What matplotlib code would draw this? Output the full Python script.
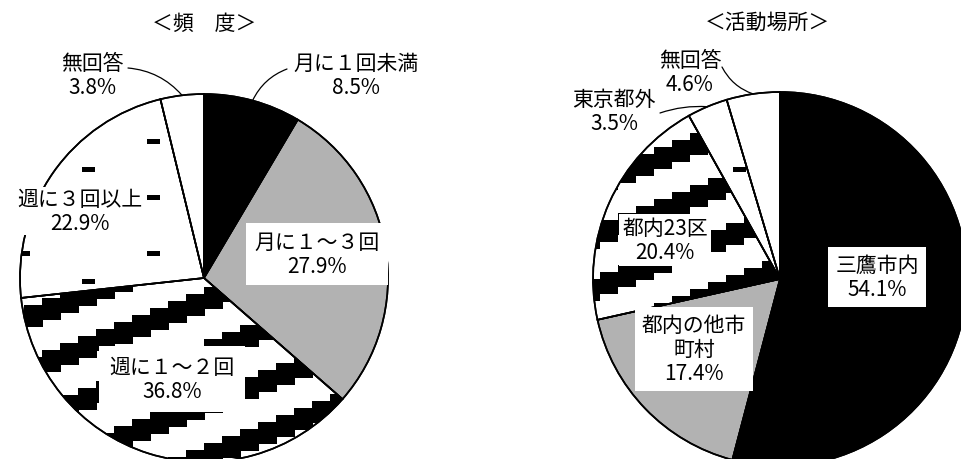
import numpy as np
import matplotlib.pyplot as plt
from matplotlib.patches import Rectangle, Wedge
from matplotlib.collections import PatchCollection

plt.rcParams['font.family'] = ['Noto Sans CJK JP', 'DejaVu Sans']

W, H = 962, 460

# data
freq_title = '＜頻　度＞'
freq_labels = ['月に１回未満', '月に１～３回', '週に１～２回', '週に３回以上', '無回答']
freq_values = [8.5, 27.9, 36.8, 22.9, 3.8]

place_title = '＜活動場所＞'
place_labels = ['三鷹市内', '都内の他市\n町村', '都内23区', '東京都外', '無回答']
place_values = [54.1, 17.4, 20.4, 3.5, 4.6]

GRAY = '#b2b2b2'
fills = ['black', 'gray', 'stripes', 'dashes', 'white']


def px(x, y):
    # pixel (top-left origin) -> data coords
    return x, H - y


def stripes(ax, wedge, cx, cy, r, phase, sw=18, sh=7, t=22, period=52):
    rects = []
    n = int(r / sw) + 3
    for k in range(-14, 14):
        base = cy + phase + k * period
        for j in range(-n, n):
            rects.append(Rectangle((cx + j * sw, base + j * sh), sw + 0.5, t))
    pc = PatchCollection(rects, facecolor='black', edgecolor='none', zorder=3)
    ax.add_collection(pc)
    pc.set_clip_path(wedge)


def dashes(ax, wedge, ox, oy, dx=130, dy=28, w=13, h=5):
    rects = []
    for row in range(-20, 20):
        for i in range(-6, 6):
            x = ox + i * dx + (row % 2) * dx / 2
            y = oy - row * dy
            rects.append(Rectangle((x - w / 2, y - h / 2), w, h))
    pc = PatchCollection(rects, facecolor='black', edgecolor='none', zorder=3)
    ax.add_collection(pc)
    pc.set_clip_path(wedge)


def draw_pie(ax, values, center, r, dash_origin, phase):
    cx, cy = px(*center)
    cols = [{'black': 'black', 'gray': GRAY}.get(f, 'white') for f in fills]
    wedges, _ = ax.pie(values, colors=cols, startangle=90, counterclock=False,
                       center=(cx, cy), radius=r,
                       wedgeprops=dict(edgecolor='black', linewidth=1.2))
    for wdg, f in zip(wedges, fills):
        wdg.set_zorder(2)
        if f == 'stripes':
            stripes(ax, wdg, cx, cy, r, phase)
        elif f == 'dashes':
            dashes(ax, wdg, *px(*dash_origin))
    # outlines above the patterns
    for wdg in wedges:
        ax.add_patch(Wedge((cx, cy), r, wdg.theta1, wdg.theta2, facecolor='none',
                           edgecolor='black', linewidth=1.2, zorder=4))
    return wedges, (cx, cy)


def edge_point(wedge, center, r):
    a = np.deg2rad((wedge.theta1 + wedge.theta2) / 2)
    return center[0] + r * np.cos(a), center[1] + r * np.sin(a)


def pct(v):
    return f'{v:.1f}%'


fig = plt.figure(figsize=(W / 100, H / 100), dpi=100)
ax = fig.add_axes([0, 0, 1, 1])

fs = 15
ls = 1.12
box = dict(facecolor='white', edgecolor='none', boxstyle='square')


def label(pos, name, value, pad=None):
    kw = {}
    if pad is not None:
        kw['bbox'] = dict(box, pad=pad)
    ax.text(*px(*pos), f'{name}\n{pct(value)}', ha='center', va='center',
            fontsize=fs, linespacing=ls, zorder=6, **kw)


def outside(wedge, center, r, name, value, pos, start, rad):
    label(pos, name, value)
    ax.annotate('', xy=edge_point(wedge, center, r), xytext=px(*start),
                arrowprops=dict(arrowstyle='-', color='black', lw=0.9,
                                connectionstyle=f'arc3,rad={rad}',
                                shrinkA=0, shrinkB=0), zorder=5)


# left pie: frequency
r1 = 184
wl, c1 = draw_pie(ax, freq_values, (204, 279), r1, (153, 142), -31)
ax.text(*px(204, 24), freq_title, ha='center', va='center', fontsize=fs)

outside(wl[0], c1, r1, freq_labels[0], freq_values[0], (356, 76), (287, 70), 0.2)
outside(wl[4], c1, r1, freq_labels[4], freq_values[4], (92, 76), (128, 69), -0.2)
label((80, 212), freq_labels[3], freq_values[3], pad=0.05)
label((317, 255), freq_labels[1], freq_values[1], pad=0.38)
label((172, 380), freq_labels[2], freq_values[2], pad=0.5)

# right pie: place
r2 = 187
wr, c2 = draw_pie(ax, place_values, (780, 280), r2, (740, 170), 3)
ax.text(*px(767, 23), place_title, ha='center', va='center', fontsize=fs)

outside(wr[4], c2, r2, place_labels[4], place_values[4], (690, 73), (722, 68), 0.2)
outside(wr[3], c2, r2, place_labels[3], place_values[3], (614, 112), (660, 114), -0.1)
label((877, 278), place_labels[0], place_values[0], pad=0.33)
label((694, 350), place_labels[1], place_values[1], pad=0.33)
label((665, 241), place_labels[2], place_values[2], pad=0.15)

ax.set_xlim(0, W)
ax.set_ylim(0, H)
ax.set_aspect('equal')
ax.axis('off')

fig.savefig('out.png', dpi=100, facecolor='white')
